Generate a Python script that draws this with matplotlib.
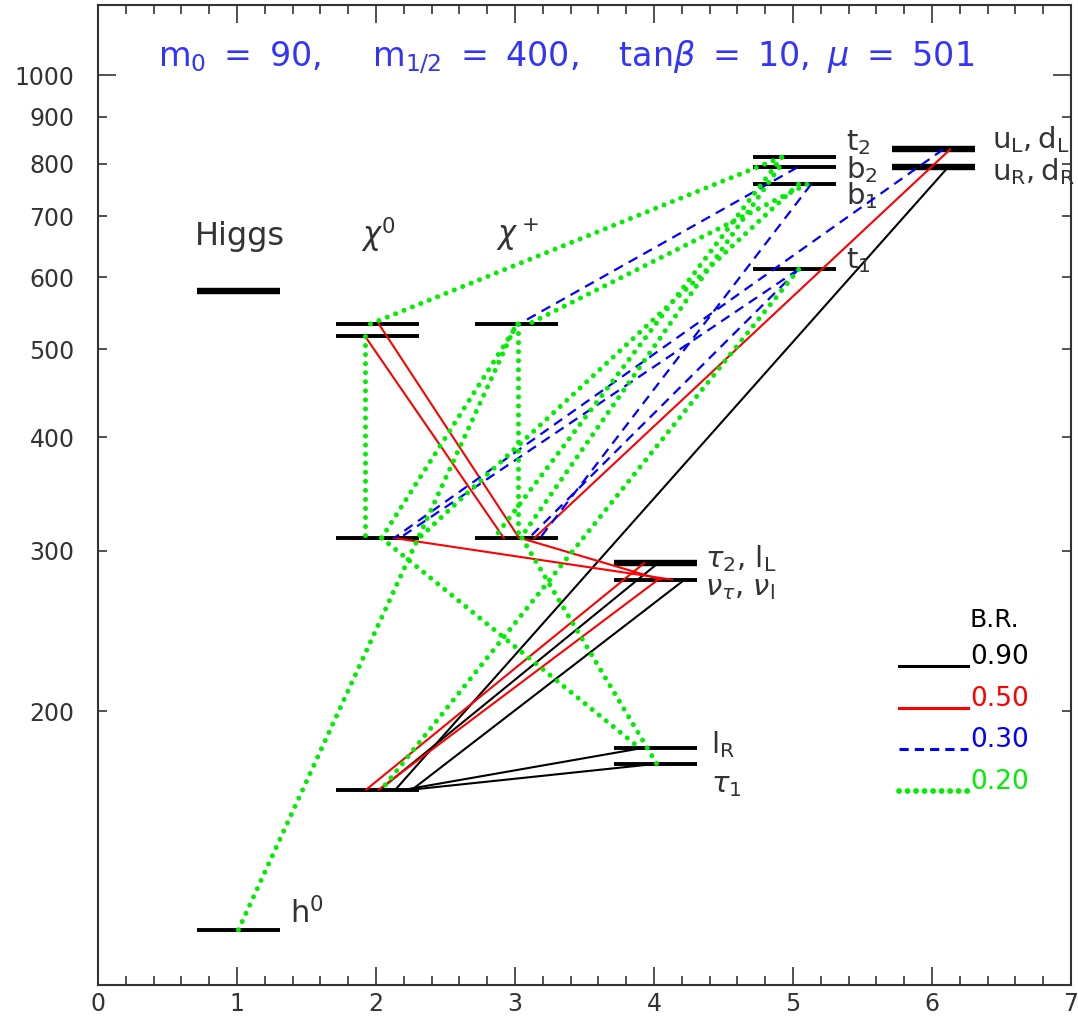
import matplotlib
matplotlib.use('Agg')
import matplotlib.pyplot as plt
from matplotlib.ticker import MultipleLocator, FixedLocator, FixedFormatter

# ---------------- data ----------------
# mass levels (GeV) per column
higgs_x, higgs_m = 1.0, [579]
h0_x, h0_m = 1.0, [115]
chi0_x, chi0_m = 2.0, [533, 517, 310, 164]
chip_x, chip_m = 3.0, [533, 310]
slep_x, slep_m = 4.0, [291, 279, 182, 175]
sq3_x, sq3_m = 5.0, [813, 792, 759, 612]
sq_x, sq_m = 6.0, [829, 794]
thick_levels = [(1.0, 579), (4.0, 291), (6.0, 829), (6.0, 794)]

# decays: start x, start mass, end x, end mass
br90_x1 = [6.12, 4.03, 4.22, 3.90, 4.01]
br90_m1 = [794, 291, 279, 182, 175]
br90_x2 = [2.14, 2.03, 2.26, 2.21, 2.26]
br90_m2 = [164, 164, 164, 164, 164]

br50_x1 = [6.13, 2.02, 1.92, 2.13, 3.04, 3.93, 4.03]
br50_m1 = [829, 533, 517, 310, 310, 291, 279]
br50_x2 = [3.14, 3.03, 2.92, 4.13, 4.05, 1.93, 2.02]
br50_m2 = [310, 310, 310, 279, 279, 164, 164]

br30_x1 = [6.08, 5.03, 5.13, 5.04, 5.04]
br30_m1 = [829, 792, 759, 612, 612]
br30_x2 = [2.13, 3.03, 3.18, 3.10, 2.17]
br30_m2 = [310, 533, 310, 310, 310]

br20_x1 = [1.01, 1.92, 3.02, 1.96, 5.04, 3.02, 2.04, 3.05, 5.10, 5.04, 4.92, 4.90]
br20_m1 = [115, 517, 533, 533, 612, 533, 310, 310, 759, 759, 813, 792]
br20_x2 = [3.01, 1.92, 3.02, 4.92, 2.04, 2.04, 3.90, 4.02, 3.10, 2.31, 2.85, 3.04]
br20_m2 = [533, 310, 310, 813, 164, 310, 182, 175, 533, 310, 310, 310]

br_labels = ['0.90', '0.50', '0.30', '0.20']

# ---------------- styles ----------------
C_BLACK, C_RED, C_BLUE, C_GREEN = 'black', '#ff0000', '#0000ff', '#00ee00'
sty90 = dict(color=C_BLACK, lw=1.5, ls='-')
sty50 = dict(color=C_RED, lw=1.5, ls='-')
sty30 = dict(color=C_BLUE, lw=1.6, ls=(0, (4.5, 3.0)))
sty20 = dict(color=C_GREEN, lw=3.6, ls=(0, (0.01, 1.8)), dash_capstyle='round')
styles = [sty90, sty50, sty30, sty20]
key_lw = [2.2, 2.2, 2.2, 4.2]

TXT = '#333333'
fig = plt.figure(figsize=(10.78, 10.19), dpi=100)
ax = fig.add_axes([98/1078, 1-985/1019, (1071-98)/1078, 980/1019])
ax.set_yscale('log')
ax.set_xlim(0, 7)
ax.set_ylim(100, 1195)

# levels
def levels(xc, ms):
    for m in ms:
        lw = 4.6 if (xc, m) in thick_levels else 2.8
        ax.hlines(m, xc - 0.29, xc + 0.31, color='black', lw=lw, zorder=2)

for xc, ms in [(higgs_x, higgs_m), (h0_x, h0_m), (chi0_x, chi0_m), (chip_x, chip_m),
               (slep_x, slep_m), (sq3_x, sq3_m), (sq_x, sq_m)]:
    levels(xc, ms)

# decays
for x1, m1, x2, m2, sty, z in [(br90_x1, br90_m1, br90_x2, br90_m2, sty90, 3),
                               (br50_x1, br50_m1, br50_x2, br50_m2, sty50, 4),
                               (br30_x1, br30_m1, br30_x2, br30_m2, sty30, 5),
                               (br20_x1, br20_m1, br20_x2, br20_m2, sty20, 6)]:
    for a, b, c, d in zip(x1, m1, x2, m2):
        ax.plot([a, c], [b, d], zorder=z, **sty)

# labels
fs = 21
ax.text(1.02, 665, 'Higgs', ha='center', va='center', fontsize=23, color=TXT)
ax.text(2.02, 667, r'$\chi^0$', ha='center', va='center', fontsize=22, color=TXT)
ax.text(3.02, 667, r'$\chi^+$', ha='center', va='center', fontsize=22, color=TXT)
ax.text(1.38, 120, r'$\mathregular{h^0}$', ha='left', va='center', fontsize=22, color=TXT)
ax.text(5.38, 843, r'$\mathregular{t_2}$', ha='left', va='center', fontsize=fs, color=TXT)
ax.text(5.38, 787, r'$\mathregular{b_2}$', ha='left', va='center', fontsize=fs, color=TXT)
ax.text(5.38, 738, r'$\mathregular{b_1}$', ha='left', va='center', fontsize=fs, color=TXT)
ax.text(5.38, 625, r'$\mathregular{t_1}$', ha='left', va='center', fontsize=fs, color=TXT)
ax.text(6.43, 851, r'$\mathregular{u_L,d_L}$', ha='left', va='center', fontsize=fs, color=TXT)
ax.text(6.43, 784, r'$\mathregular{u_R,d_R}$', ha='left', va='center', fontsize=fs, color=TXT)
ax.text(4.37, 294, r'$\tau_2$, $\mathregular{l_L}$', ha='left', va='center', fontsize=fs, color=TXT)
ax.text(4.37, 273, r'$\nu_\tau$, $\nu_\mathregular{l}$', ha='left', va='center', fontsize=fs, color=TXT)
ax.text(4.41, 184, r'$\mathregular{l_R}$', ha='left', va='center', fontsize=fs, color=TXT)
ax.text(4.41, 166, r'$\tau_1$', ha='left', va='center', fontsize=fs, color=TXT)

ax.text(3.37, 1046, r'$\mathregular{m_0\ =\ 90,\ \ \ \ m_{1/2}\ =\ 400,\ \ \ tan}\beta\mathregular{\ =\ 10,\ }\mu\mathregular{\ =\ 501}$',
        ha='center', va='center', fontsize=24, color='#3333ff')

# legend (B.R. key), drawn in axes fraction
lx0, lx1, ltx = 0.823, 0.894, 0.896
ly0, ldy, loff = 0.3347, 0.0425, 0.0092
ax.text(ltx, ly0 + 0.0377, 'B.R.', transform=ax.transAxes, ha='left', va='center',
        fontsize=18, color='black')
for i, (sty, lab) in enumerate(zip(styles, br_labels)):
    yt = ly0 - i * ldy
    ksty = dict(sty)
    ksty['lw'] = key_lw[i]
    if i == 2:
        ksty['ls'] = (0, (3.0, 2.0))
    if i == 3:
        ksty['ls'] = (0, (0.01, 1.45))
    ax.plot([lx0, lx1], [yt - loff, yt - loff], transform=ax.transAxes,
            clip_on=False, **ksty)
    ax.text(ltx, yt, lab, transform=ax.transAxes, ha='left', va='center',
            fontsize=19, color=sty['color'])

# axes / ticks
ax.xaxis.set_major_locator(MultipleLocator(1))
ax.xaxis.set_minor_locator(MultipleLocator(0.2))
ax.yaxis.set_major_locator(FixedLocator([100, 1000]))
ax.yaxis.set_major_formatter(FixedFormatter(['', '1000']))
ax.yaxis.set_minor_locator(FixedLocator([200, 300, 400, 500, 600, 700, 800, 900]))
ax.yaxis.set_minor_formatter(FixedFormatter(['200', '300', '400', '500', '600', '700', '800', '900']))
ax.tick_params(which='both', direction='in', top=True, right=True, colors=TXT,
               labelsize=17, labelcolor=TXT)
ax.tick_params(which='major', length=13, width=1.2)
ax.tick_params(which='minor', length=6.5, width=1.2)
ax.tick_params(axis='x', which='both', pad=5)
ax.tick_params(axis='y', which='both', pad=17)
for s in ax.spines.values():
    s.set_linewidth(1.5)
    s.set_color(TXT)

fig.savefig('out.png', dpi=100)
